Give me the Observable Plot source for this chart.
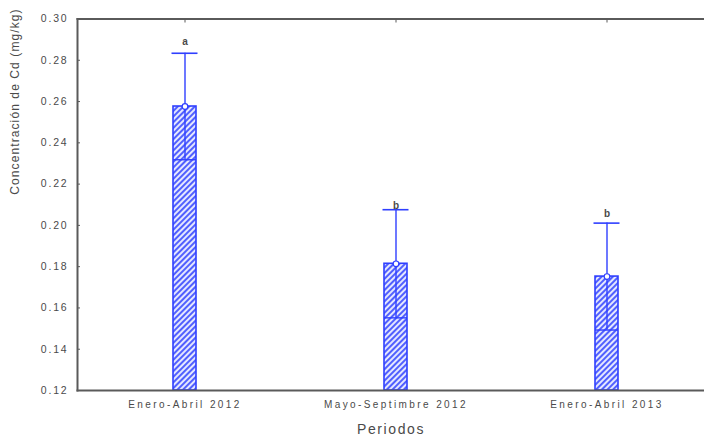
<!DOCTYPE html>
<html><head><meta charset="utf-8">
<script src="https://cdn.jsdelivr.net/npm/d3@7"></script>
<script src="https://cdn.jsdelivr.net/npm/@observablehq/plot@0.6"></script>
<style>
body{margin:0;background:#fff;}
.c text{fill:#4a4a4a;}
.c g[aria-label="x-axis tick label"] text{letter-spacing:2.4px;}
.c g[aria-label="y-axis tick label"] text{letter-spacing:1.8px;}
.c .ylab text{letter-spacing:1.1px;}
.c .xlab text{letter-spacing:1.6px;}
</style></head><body>
<svg width="0" height="0" style="position:absolute"><defs>
<pattern id="hatch" patternUnits="userSpaceOnUse" width="4" height="4" patternTransform="rotate(45)">
<rect width="4" height="4" fill="#e4e7ff"/>
<line x1="1" y1="0" x2="1" y2="4" stroke="#4050ff" stroke-width="1.8"/>
</pattern></defs></svg>
<div id="chart"></div>
<script>
const periods = ["Enero-Abril 2012", "Mayo-Septimbre 2012", "Enero-Abril 2013"];
const means = [0.2576, 0.1814, 0.1752];
const sds = [0.0258, 0.0262, 0.0259];
const letters = ["a", "b", "b"];
const letterY = [0.2891, 0.2096, 0.2058];
const yTicks = [0.12, 0.14, 0.16, 0.18, 0.20, 0.22, 0.24, 0.26, 0.28, 0.30];
const yLabel = "Concentración de Cd (mg/kg)";
const xLabel = "Periodos";

const data = periods.map((p, i) => ({
  p, mean: means[i], lo: means[i] - sds[i], hi: means[i] + sds[i],
  letter: letters[i], ly: letterY[i], base: yTicks[0]
}));

const blue = "#2f3fff";
const axisColor = "#5a5a5a";

const chart = Plot.plot({
  width: 704, height: 440,
  marginLeft: 77, marginRight: 0, marginTop: 18.5, marginBottom: 50,
  className: "c",
  style: {fontFamily: "'Liberation Sans', Arial, sans-serif", background: "#fff", overflow: "visible"},
  x: {type: "band", domain: periods, range: [172.5, 618.5], paddingInner: 0.891, paddingOuter: 0, align: 0.5, label: null},
  y: {domain: [yTicks[0], yTicks[yTicks.length - 1]], label: null},
  marks: [
    Plot.barY(data, {x: "p", y1: "base", y2: "mean", fill: "url(#hatch)", stroke: blue, strokeWidth: 1.6}),
    Plot.ruleX(data, {x: "p", y1: "lo", y2: "mean", stroke: blue, strokeWidth: 1.4}),
    Plot.tickY(data, {x: "p", y: "lo", stroke: blue, strokeWidth: 1.4}),
    Plot.ruleX(data, {x: "p", y1: "mean", y2: "hi", stroke: blue, strokeWidth: 1.4}),
    Plot.tickY(data, {x: "p", y: "hi", stroke: blue, strokeWidth: 1.6, insetLeft: -1.5, insetRight: -1.5}),
    Plot.dot(data, {x: "p", y: "mean", r: 2.8, fill: "white", stroke: blue, strokeWidth: 1.2}),
    Plot.text(data, {x: "p", y: "ly", text: "letter", fontSize: 10, fontWeight: "bold", fill: "#333"}),
    Plot.frame({anchor: "left", stroke: axisColor, strokeWidth: 2}),
    Plot.frame({anchor: "top", stroke: axisColor, strokeWidth: 2}),
    Plot.frame({anchor: "bottom", stroke: axisColor, strokeWidth: 2}),
    Plot.axisY({ticks: yTicks, tickFormat: d3.format(".2f"), tickSize: 0, tickPadding: 9, fontSize: 10.5, label: null}),
    Plot.axisY({ticks: yTicks, tickSize: -3, text: null, stroke: axisColor, label: null}),
    Plot.axisX({anchor: "top", tickSize: -3, text: null, stroke: axisColor, label: null}),
    Plot.axisX({anchor: "bottom", tickSize: 0, tickPadding: 10, fontSize: 10, label: null}),
    Plot.text([xLabel], {frameAnchor: "bottom", dy: 43, fontSize: 14, className: "xlab"}),
    Plot.text([yLabel], {frameAnchor: "left", dx: -62, dy: -10, rotate: -90, fontSize: 12, className: "ylab"})
  ]
});
document.getElementById("chart").appendChild(chart);
</script>
</body></html>
